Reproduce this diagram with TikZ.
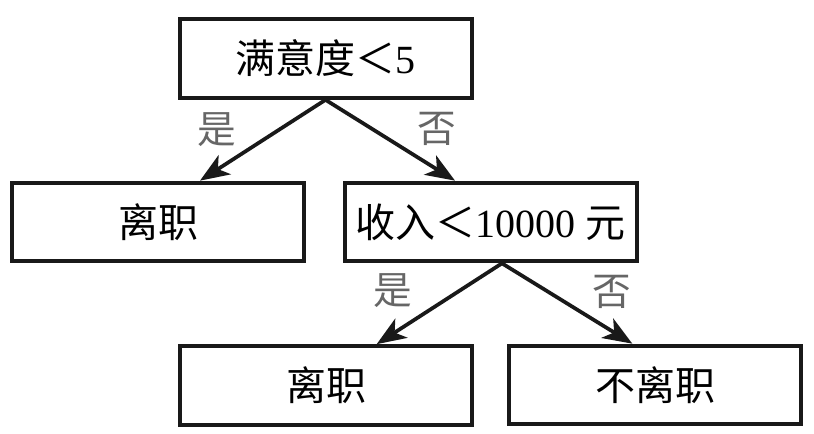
\documentclass[tikz,border=0pt]{standalone}
\usepackage{fontspec}
\setmainfont{Liberation Serif}
\newfontfamily\cjk{Noto Sans CJK SC}
\usetikzlibrary{arrows.meta}
\begin{document}
\begin{tikzpicture}[x=0.75pt,y=-0.75pt,
  box/.style={draw=black!90,line width=3pt,rectangle,minimum width=219pt,minimum height=59pt,inner sep=0pt,font=\fontsize{30pt}{32pt}\selectfont\cjk},
  arr/.style={line width=2.8pt,draw=black!90,-{Stealth[length=22pt,width=17pt,inset=6pt]}},
  lab/.style={text=black!60,font=\fontsize{29pt}{32pt}\selectfont\cjk,inner sep=0pt}]
\useasboundingbox (0,0) rectangle (814,434);
\node[box] (top) at (325.5,58.5) {满意度＜{\rmfamily 5}};
\node[box] (ml) at (158,222) {离职};
\node[box] (mr) at (490.5,222) {收入＜{\rmfamily 10000 }元};
\node[box] (bl) at (326,385.5) {离职};
\node[box] (br) at (655,385) {不离职};
\draw[arr] (top.south) -- ([xshift=31.5pt]ml.north);
\draw[arr] (top.south) -- ([xshift=-26.6pt]mr.north);
\draw[arr] ([xshift=8.6pt]mr.south) -- ([xshift=38pt]bl.north);
\draw[arr] ([xshift=8.6pt]mr.south) -- ([xshift=-17pt]br.north);
\node[lab] (l1) at (217,130) {是};
\node[lab] (l2) at (437,129) {否};
\node[lab] (l3) at (393,291) {是};
\node[lab] (l4) at (612,292) {否};
\end{tikzpicture}
\end{document}
